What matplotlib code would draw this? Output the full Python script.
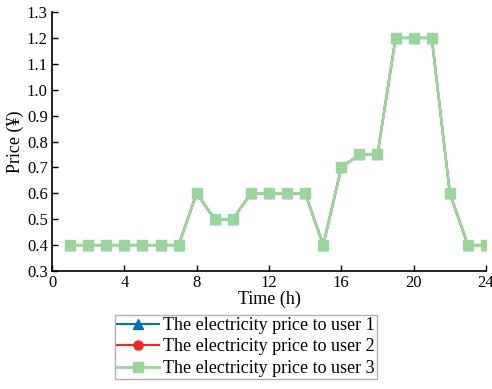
import matplotlib
matplotlib.use("Agg")
import matplotlib.pyplot as plt

plt.rcParams['font.family'] = ['Liberation Serif', 'DejaVu Serif']

hours = list(range(1, 25))
price_user1 = [0.4, 0.4, 0.4, 0.4, 0.4, 0.4, 0.4, 0.6, 0.5, 0.5, 0.6, 0.6,
               0.6, 0.6, 0.4, 0.7, 0.75, 0.75, 1.2, 1.2, 1.2, 0.6, 0.4, 0.4]
price_user2 = list(price_user1)
price_user3 = list(price_user1)
labels = ["The electricity price to user 1",
          "The electricity price to user 2",
          "The electricity price to user 3"]
xticks = [0, 4, 8, 12, 16, 20, 24]
yticks = [0.3, 0.4, 0.5, 0.6, 0.7, 0.8, 0.9, 1.0, 1.1, 1.2, 1.3]

fig = plt.figure(figsize=(4.92, 3.89), dpi=100)
ax = fig.add_axes([0.1057, 0.3033, 0.8821, 0.6657])

ax.plot(hours, price_user1, color='#0072BD', marker='^', markersize=6.5,
        linewidth=1.5, label=labels[0])
ax.plot(hours, price_user2, color='#FF2020', marker='o', markersize=6.5,
        linewidth=1.5, label=labels[1])
ax.plot(hours, price_user3, color='#99D699', marker='s', markersize=6.5,
        linewidth=2, label=labels[2])

ax.set_xlim(0, 24)
ax.set_ylim(0.3, 1.3)
ax.set_xticks(xticks)
ax.set_yticks(yticks)
ax.set_yticklabels([f"{v:.1f}" for v in yticks])
ax.tick_params(direction='in', labelsize=12, length=4, width=1, pad=3)
for s in ['top', 'right']:
    ax.spines[s].set_visible(False)
for s in ['left', 'bottom']:
    ax.spines[s].set_linewidth(1.2)

ax.set_xlabel("Time (h)", fontsize=13, labelpad=0)
ax.set_ylabel("Price (¥)", fontsize=13, labelpad=2)

leg = fig.legend(loc='upper center', bbox_to_anchor=(0.5, 0.19),
                 fontsize=13, frameon=True, fancybox=False, framealpha=1,
                 edgecolor='#b0b0b0', borderpad=0.1, labelspacing=0.25,
                 handlelength=2.3, handletextpad=0.25, borderaxespad=0)
leg.get_frame().set_linewidth(1)

fig.savefig("out.png", dpi=100)
